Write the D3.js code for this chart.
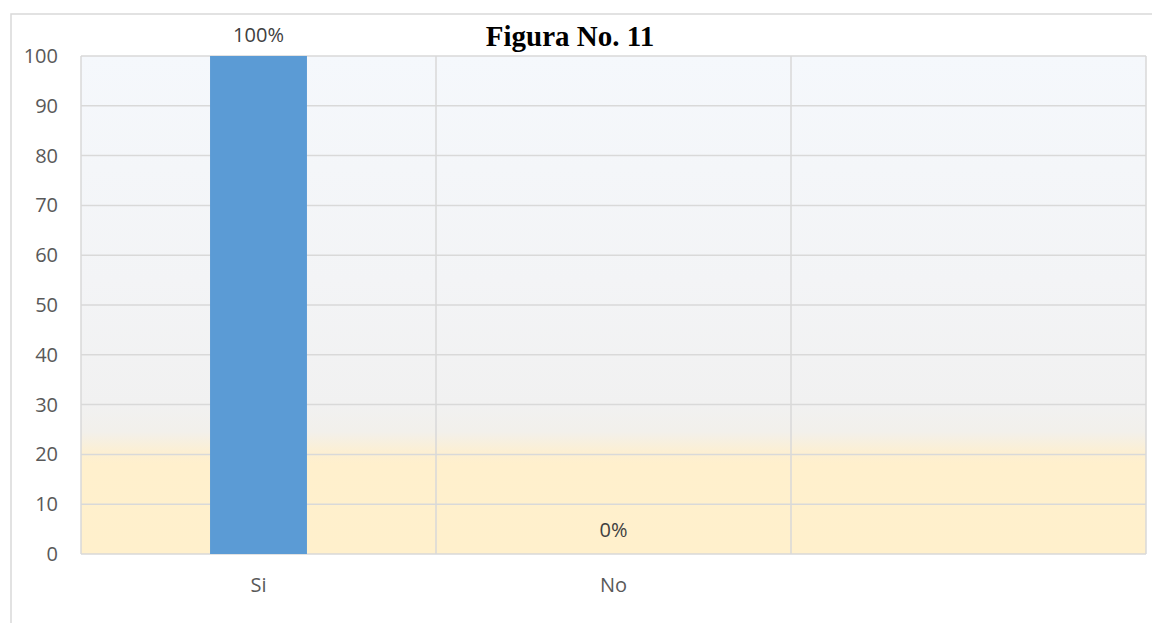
<!DOCTYPE html>
<html><head><meta charset="utf-8">
<script src="https://cdn.jsdelivr.net/npm/d3@7"></script>
<style>body{margin:0;background:#fff;}svg{display:block;}</style>
</head><body>
<svg id="c" width="1152" height="623"></svg>
<script>
const categories = ["Si", "No", ""];
const values = [100, 0, null];
const valueLabels = ["100%", "0%", ""];
const yTicks = [0, 10, 20, 30, 40, 50, 60, 70, 80, 90, 100];
const title = "Figura No. 11";

const svg = d3.select("#c");
const m = {left: 81, top: 56, right: 1146, bottom: 554};

// outer chart border
svg.append("path").attr("d", "M11,640V14H1170").attr("fill", "none").attr("stroke", "#d9d9d9").attr("stroke-width", 1.5);

const defs = svg.append("defs");
const g = defs.append("linearGradient").attr("id", "bg").attr("x1", 0).attr("y1", 0).attr("x2", 0).attr("y2", 1);
[[0, "#f5f8fc"], [0.45, "#f3f4f6"], [0.7, "#f1f1f1"], [0.755, "#f2f0eb"], [0.8, "#fdefd0"], [0.82, "#fff0cd"], [1, "#fff0cc"]]
  .forEach(([o, c]) => g.append("stop").attr("offset", o).attr("stop-color", c));

const x = d3.scaleBand().domain(d3.range(categories.length)).range([m.left, m.right]).paddingInner(0).paddingOuter(0);
const y = d3.scaleLinear().domain([0, 100]).range([m.bottom, m.top]);

svg.append("rect").attr("x", m.left).attr("y", m.top).attr("width", m.right - m.left).attr("height", m.bottom - m.top)
  .attr("fill", "url(#bg)");

// horizontal gridlines
svg.append("g").selectAll("line").data(yTicks).join("line")
  .attr("x1", m.left).attr("x2", m.right).attr("y1", d => y(d)).attr("y2", d => y(d))
  .attr("stroke", "#d9d9d9").attr("stroke-width", 1.5);
// vertical gridlines
svg.append("g").selectAll("line").data(d3.range(categories.length + 1)).join("line")
  .attr("x1", d => m.left + d * x.bandwidth()).attr("x2", d => m.left + d * x.bandwidth())
  .attr("y1", m.top).attr("y2", m.bottom)
  .attr("stroke", "#d9d9d9").attr("stroke-width", 1.5);

// bars
const bw = x.bandwidth() * 0.273;
svg.append("g").selectAll("rect").data(values.map((v, i) => ({v, i})).filter(d => d.v != null)).join("rect")
  .attr("x", d => x(d.i) + x.bandwidth() / 2 - bw / 2)
  .attr("y", d => y(d.v)).attr("width", bw).attr("height", d => y(0) - y(d.v))
  .attr("fill", "#5b9bd5");

const font = "'Open Sans', 'Noto Sans', sans-serif";
// value labels
svg.append("g").selectAll("text").data(values.map((v, i) => ({v, i})).filter(d => d.v != null)).join("text")
  .attr("x", d => x(d.i) + x.bandwidth() / 2).attr("y", d => y(d.v) - (d.v === 0 ? 17 : 14))
  .attr("text-anchor", "middle").attr("font-family", font).attr("font-size", 20).attr("fill", "#404040")
  .text(d => valueLabels[d.i]);

// y axis
const ya = svg.append("g").attr("transform", `translate(${m.left},0)`).call(d3.axisLeft(y).tickValues(yTicks).tickSize(0).tickPadding(23));
ya.select(".domain").remove();
ya.selectAll("text").attr("font-family", font).attr("font-size", 20).attr("fill", "#595959");

// x axis
const xa = svg.append("g").attr("transform", `translate(0,${m.bottom})`).call(d3.axisBottom(x).tickFormat(i => categories[i]).tickSize(0).tickPadding(24));
xa.select(".domain").remove();
xa.selectAll("text").attr("font-family", font).attr("font-size", 20).attr("fill", "#595959");

// title
svg.append("text").attr("x", 570).attr("y", 46).attr("text-anchor", "middle")
  .attr("font-family", "'Liberation Serif', 'Times New Roman', serif").attr("font-weight", "bold").attr("font-size", 29)
  .attr("fill", "#000").text(title);
</script>
</body></html>
